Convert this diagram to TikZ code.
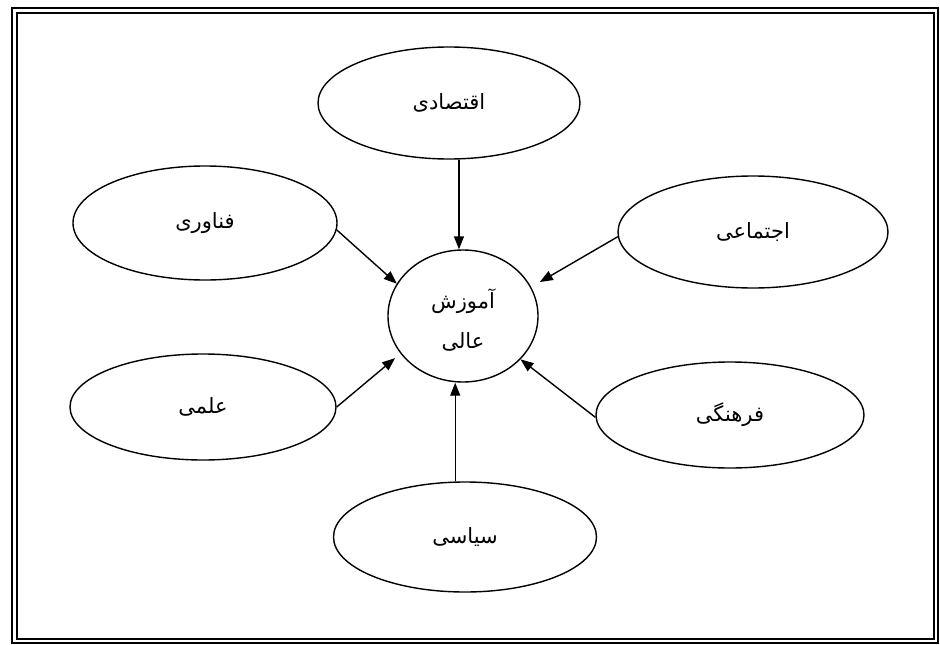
\documentclass[tikz,border=0pt]{standalone}
\usepackage{fontspec}
\newfontfamily\arabicfont[Script=Arabic]{DejaVu Sans}
\TeXXeTstate=1
\usetikzlibrary{shapes.geometric,arrows.meta}
\begin{document}
\begin{tikzpicture}[x=1pt,y=-1pt,
  bub/.style={ellipse, draw, line width=1.4pt, inner sep=0pt,
              font=\arabicfont\fontsize{21}{24}\selectfont},
  arr/.style={line width=1.4pt, -{Triangle[length=13pt,width=10pt]}}]
\useasboundingbox (0,0) rectangle (940,645);
\draw[line width=2pt] (12,8) rectangle (938,643);
\draw[line width=1.5pt] (17,13) rectangle (934,639);
\node[bub, minimum width=150pt, minimum height=132pt, align=center,
      font=\arabicfont\fontsize{21}{40}\selectfont] (c) at (463,316)
      {\rule{0pt}{27pt}\beginR آموزش\endR\\\beginR عالی\endR};
\node[bub, minimum width=262pt, minimum height=112pt] (eq) at (449,103) {\beginR اقتصادی\endR};
\node[bub, minimum width=264pt, minimum height=114pt] (fan) at (205,223) {\beginR فناوری\endR};
\node[bub, minimum width=270pt, minimum height=112pt] (ej) at (753,232) {\beginR اجتماعی\endR};
\node[bub, minimum width=266pt, minimum height=106pt] (elm) at (203,407) {\beginR علمی\endR};
\node[bub, minimum width=268pt, minimum height=106pt] (far) at (730,415) {\beginR فرهنگی\endR};
\node[bub, minimum width=263pt, minimum height=110pt] (sy) at (465,537) {\beginR سیاسی\endR};
\draw[arr] (eq.-80) -- (eq.-80 |- c.north);
\draw[arr] (fan.-3) -- (c.154);
\draw[arr, shorten >=10pt] (ej.182) -- (c.23);
\draw[arr, shorten >=7pt] (elm.0) -- (c.211);
\draw[arr] (far.181) -- (c.323);
\draw[arr] (sy.100) -- (sy.100 |- c.south);
\end{tikzpicture}
\end{document}
